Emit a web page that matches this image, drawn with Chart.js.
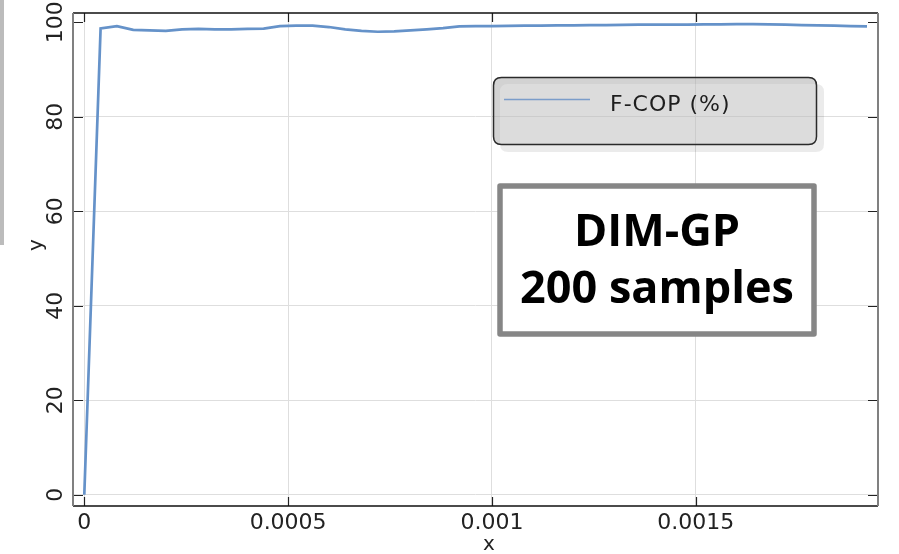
<!DOCTYPE html>
<html>
<head>
<meta charset="utf-8">
<title>F-COP (%)</title>
<script src="https://cdn.jsdelivr.net/npm/chart.js@4.4.1/dist/chart.umd.min.js"></script>
<style>
  html, body { margin: 0; padding: 0; background: #ffffff; }
  #wrap { width: 899px; height: 554px; position: relative; }
  canvas { display: block; }
</style>
</head>
<body>
<div id="wrap"><canvas id="chart" width="899" height="554"></canvas></div>
<script>
// Sample times (s), step 4e-5
const xValues = [
  0, 0.00004, 0.00008, 0.00012, 0.00016, 0.00020, 0.00024, 0.00028, 0.00032, 0.00036,
  0.00040, 0.00044, 0.00048, 0.00052, 0.00056, 0.00060, 0.00064, 0.00068, 0.00072, 0.00076,
  0.00080, 0.00084, 0.00088, 0.00092, 0.00096, 0.00100, 0.00104, 0.00108, 0.00112, 0.00116,
  0.00120, 0.00124, 0.00128, 0.00132, 0.00136, 0.00140, 0.00144, 0.00148, 0.00152, 0.00156,
  0.00160, 0.00164, 0.00168, 0.00172, 0.00176, 0.00180, 0.00184, 0.00188, 0.00192
];
// F-COP (%)
const fcopValues = [
  0, 98.7, 99.2, 98.4, 98.3, 98.2, 98.5, 98.6, 98.5, 98.5,
  98.6, 98.65, 99.2, 99.3, 99.3, 99.0, 98.5, 98.2, 98.0, 98.1,
  98.3, 98.5, 98.75, 99.15, 99.2, 99.2, 99.25, 99.3, 99.3, 99.35,
  99.35, 99.4, 99.4, 99.45, 99.5, 99.5, 99.5, 99.5, 99.55, 99.55,
  99.6, 99.6, 99.55, 99.5, 99.4, 99.35, 99.3, 99.2, 99.15
];

const xTickValues = [0, 0.0005, 0.001, 0.0015];
const xTickLabels = ['0', '0.0005', '0.001', '0.0015'];
const yTickValues = [0, 20, 40, 60, 80, 100];
const yTickLabels = ['0', '20', '40', '60', '80', '100'];

const seriesLabel = 'F-COP (%)';
const boxLines = ['DIM-GP', '200 samples'];

const X_MIN = -0.0000277, X_MAX = 0.001947;
const Y_MIN = -2.37, Y_MAX = 101.97;

function roundRectPath(ctx, x, y, w, h, r) {
  ctx.moveTo(x + r, y);
  ctx.lineTo(x + w - r, y);
  ctx.quadraticCurveTo(x + w, y, x + w, y + r);
  ctx.lineTo(x + w, y + h - r);
  ctx.quadraticCurveTo(x + w, y + h, x + w - r, y + h);
  ctx.lineTo(x + r, y + h);
  ctx.quadraticCurveTo(x, y + h, x, y + h - r);
  ctx.lineTo(x, y + r);
  ctx.quadraticCurveTo(x, y, x + r, y);
  ctx.closePath();
}

// Frame, inward ticks, rotated y labels, axis titles, legend and note box
const decorations = {
  id: 'decorations',
  afterDraw(chart) {
    const ctx = chart.ctx;
    const a = chart.chartArea;
    const xs = chart.scales.x, ys = chart.scales.y;
    ctx.save();

    // thin grey strip at the left margin
    ctx.fillStyle = '#bcbcbc';
    ctx.fillRect(0, 0, 4, 245);

    // inward tick marks on all four sides
    ctx.strokeStyle = '#222';
    ctx.lineWidth = 1.2;
    ctx.beginPath();
    xTickValues.forEach(v => {
      const px = Math.round(xs.getPixelForValue(v)) + 0.5;
      ctx.moveTo(px, a.bottom); ctx.lineTo(px, a.bottom - 9);
      ctx.moveTo(px, a.top); ctx.lineTo(px, a.top + 9);
    });
    yTickValues.forEach(v => {
      const py = Math.round(ys.getPixelForValue(v)) + 0.5;
      ctx.moveTo(a.left, py); ctx.lineTo(a.left + 10, py);
      ctx.moveTo(a.right, py); ctx.lineTo(a.right - 10, py);
    });
    ctx.stroke();

    // frame: black top/bottom, grey left/right
    ctx.lineWidth = 1.5;
    ctx.strokeStyle = '#111';
    ctx.beginPath();
    ctx.moveTo(a.left, a.top); ctx.lineTo(a.right, a.top);
    ctx.moveTo(a.left, a.bottom); ctx.lineTo(a.right, a.bottom);
    ctx.stroke();
    ctx.lineWidth = 2;
    ctx.strokeStyle = '#808080';
    ctx.beginPath();
    ctx.moveTo(a.left, a.top); ctx.lineTo(a.left, a.bottom);
    ctx.moveTo(a.right, a.top); ctx.lineTo(a.right, a.bottom);
    ctx.stroke();

    // rotated y tick labels
    ctx.fillStyle = '#222';
    ctx.font = '22px "DejaVu Sans"';
    ctx.textAlign = 'center';
    ctx.textBaseline = 'middle';
    yTickValues.forEach((v, i) => {
      const py = ys.getPixelForValue(v);
      ctx.save();
      ctx.translate(56, py);
      ctx.rotate(-Math.PI / 2);
      ctx.fillText(yTickLabels[i], 0, 0);
      ctx.restore();
    });

    // axis titles
    ctx.font = '20px "DejaVu Sans"';
    ctx.save();
    ctx.translate(37, 245);
    ctx.rotate(-Math.PI / 2);
    ctx.fillText('y', 0, 0);
    ctx.restore();
    ctx.fillText('x', 489, 545);

    // legend: drop shadow only outside the box, then a translucent panel
    ctx.beginPath();
    roundRectPath(ctx, 500, 84, 324, 68, 8);
    roundRectPath(ctx, 493.5, 77.5, 323, 67, 8);
    ctx.fillStyle = 'rgba(0,0,0,0.08)';
    ctx.fill('evenodd');
    ctx.beginPath();
    roundRectPath(ctx, 493.5, 77.5, 323, 67, 8);
    ctx.fillStyle = 'rgba(185,185,185,0.5)';
    ctx.fill();
    ctx.lineWidth = 1.5;
    ctx.strokeStyle = '#2a2a2a';
    ctx.stroke();
    ctx.strokeStyle = '#7b9dca';
    ctx.lineWidth = 1.6;
    ctx.beginPath();
    ctx.moveTo(504, 99.5); ctx.lineTo(590, 99.5);
    ctx.stroke();
    ctx.fillStyle = '#1e1e1e';
    ctx.font = '22px "DejaVu Sans"';
    ctx.textAlign = 'left';
    ctx.textBaseline = 'alphabetic';
    if ('letterSpacing' in ctx) ctx.letterSpacing = '1px';
    ctx.fillText(seriesLabel, 610, 111);
    if ('letterSpacing' in ctx) ctx.letterSpacing = '0px';

    // note box
    ctx.fillStyle = '#ffffff';
    ctx.fillRect(500, 186, 314, 148);
    ctx.lineWidth = 5.5;
    ctx.strokeStyle = '#868686';
    ctx.lineJoin = 'round';
    ctx.strokeRect(500, 186, 314, 148);
    ctx.fillStyle = '#000';
    ctx.font = 'bold 45px "Open Sans"';
    ctx.textAlign = 'center';
    ctx.fillText(boxLines[0], 657, 246);
    ctx.fillText(boxLines[1], 657, 303);

    ctx.restore();
  }
};

new Chart(document.getElementById('chart'), {
  type: 'line',
  data: {
    datasets: [{
      label: seriesLabel,
      data: xValues.map((x, i) => ({ x: x, y: fcopValues[i] })),
      borderColor: '#6592c9',
      borderWidth: 2.7,
      pointRadius: 0,
      tension: 0,
      fill: false
    }]
  },
  options: {
    responsive: false,
    animation: false,
    layout: { padding: { top: 13, right: 21, left: 0, bottom: 0 } },
    plugins: { legend: { display: false }, tooltip: { enabled: false } },
    scales: {
      x: {
        type: 'linear',
        min: X_MIN,
        max: X_MAX,
        afterBuildTicks: s => { s.ticks = xTickValues.map(v => ({ value: v })); },
        afterFit: s => { s.height = 48; },
        ticks: {
          callback: (v, i) => xTickLabels[i],
          font: { family: 'DejaVu Sans', size: 22 },
          color: '#222',
          padding: 4,
          maxRotation: 0,
          autoSkip: false
        },
        grid: { color: '#dedede', lineWidth: 1, drawTicks: false },
        border: { display: false }
      },
      y: {
        type: 'linear',
        min: Y_MIN,
        max: Y_MAX,
        afterBuildTicks: s => { s.ticks = yTickValues.map(v => ({ value: v })); },
        afterFit: s => { s.width = 73; },
        ticks: { display: false },
        grid: {
          color: c => (c.tick && c.tick.value === 100) ? 'rgba(0,0,0,0)' : '#dedede',
          lineWidth: 1,
          drawTicks: false
        },
        border: { display: false }
      }
    }
  },
  plugins: [decorations]
});
</script>
</body>
</html>
